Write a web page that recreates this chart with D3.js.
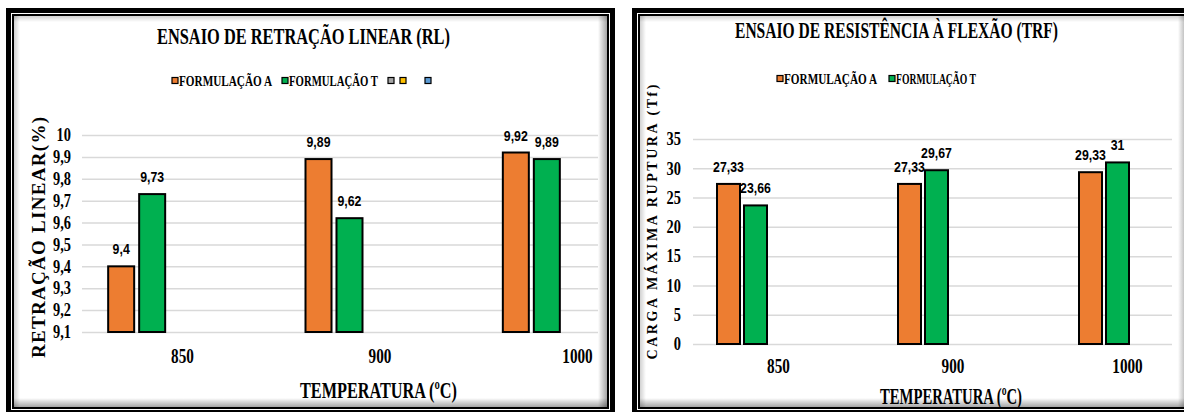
<!DOCTYPE html>
<html>
<head>
<meta charset="utf-8">
<script src="https://cdn.jsdelivr.net/npm/d3@7"></script>
<style>
  body { margin: 0; background: #fff; }
  text { font-family: "Liberation Serif", Tinos, "Times New Roman", "DejaVu Serif", serif !important; font-weight: bold; fill: #000; }
  text.lbl { font-family: "Liberation Sans", Arimo, Arial, sans-serif !important; }
</style>
</head>
<body>
<div id="app"></div>
<script>
// data
var temperaturas = ["850", "900", "1000"];
var formulacoes = ["FORMULAÇÃO A", "FORMULAÇÃO T"];
var cores = ["#ED7D31", "#00B050"];
var coresExtra = ["#A5A5A5", "#FFC000", "#5B9BD5"]; // empty legend entries on the RL chart

var retracaoA = [9.4, 9.89, 9.92];
var retracaoT = [9.73, 9.62, 9.89];
var ticksRL = [9.1, 9.2, 9.3, 9.4, 9.5, 9.6, 9.7, 9.8, 9.9, 10];

var flexaoA = [27.33, 27.33, 29.33];
var flexaoT = [23.66, 29.67, 31];
var ticksTRF = [0, 5, 10, 15, 20, 25, 30, 35];

var fmt = d3.formatLocale({decimal: ",", thousands: ".", grouping: [3], currency: ["", ""]}).format(".2~f");

var svg = d3.select("#app").append("svg")
    .attr("width", 1184)
    .attr("height", 412);

var defs = svg.append("defs");
function grad(id, x1, y1, x2, y2, op) {
    var g = defs.append("linearGradient").attr("id", id)
        .attr("x1", x1).attr("y1", y1).attr("x2", x2).attr("y2", y2);
    g.append("stop").attr("offset", 0).attr("stop-color", "#000").attr("stop-opacity", op);
    g.append("stop").attr("offset", 1).attr("stop-color", "#000").attr("stop-opacity", 0);
}
grad("shR", 1, 0, 0, 0, 0.35);
grad("shB", 0, 1, 0, 0, 0.35);
grad("shL", 0, 0, 1, 0, 0.18);
grad("shT", 0, 0, 0, 1, 0.18);

function squeeze(sel, k) {
    sel.each(function() {
        var L = this.getComputedTextLength();
        d3.select(this).attr("textLength", L * k).attr("lengthAdjust", "spacingAndGlyphs");
    });
}

function panel(x0, y0, x1, y1) {
    var p = svg.append("g");
    p.append("rect").attr("x", x0 + 2.5).attr("y", y0 + 2.5)
        .attr("width", x1 - x0 - 5).attr("height", y1 - y0 - 5)
        .attr("fill", "#fff").attr("stroke", "#000").attr("stroke-width", 5);
    var ix0 = x0 + 8, iy0 = y0 + 8, ix1 = x1 - 8, iy1 = y1 - 8, s = 9;
    p.append("rect").attr("x", ix1 - s).attr("y", iy0).attr("width", s).attr("height", iy1 - iy0).attr("fill", "url(#shR)");
    p.append("rect").attr("x", ix0).attr("y", iy1 - s).attr("width", ix1 - ix0).attr("height", s).attr("fill", "url(#shB)");
    p.append("rect").attr("x", ix0).attr("y", iy0).attr("width", 6).attr("height", iy1 - iy0).attr("fill", "url(#shL)");
    p.append("rect").attr("x", ix0).attr("y", iy0).attr("width", ix1 - ix0).attr("height", 6).attr("fill", "url(#shT)");
    p.append("rect").attr("x", x0 + 7).attr("y", y0 + 7)
        .attr("width", x1 - x0 - 14).attr("height", y1 - y0 - 14)
        .attr("fill", "none").attr("stroke", "#000").attr("stroke-width", 2);
}

panel(6, 8, 615, 415);
panel(632, 8, 1195, 415);

function drawChart(c) {
    var g = svg.append("g");

    var y = d3.scaleLinear().domain(c.yDomain).range(c.yRange);
    var x = d3.scaleBand().domain(temperaturas).range(c.band);
    var xs = d3.scaleBand().domain(formulacoes).range([-c.half, c.half]).paddingInner(c.pad);
    var xl = d3.scalePoint().domain(temperaturas).range(c.labelRange);

    // gridlines + y ticks
    var ay = g.append("g").attr("transform", "translate(" + c.gx0 + ",0)")
        .call(d3.axisLeft(y).tickValues(c.ticks).tickFormat(fmt)
            .tickSize(-(c.gx1 - c.gx0)).tickPadding(c.gx0 - c.tickRight));
    ay.select(".domain").remove();
    ay.selectAll("line").attr("stroke", "#d9d9d9").attr("stroke-width", 1.5);
    ay.selectAll("text").attr("font-size", 18).call(squeeze, 0.8);

    // x labels
    var ax = g.append("g").attr("transform", "translate(0," + c.xLabelY + ")")
        .call(d3.axisBottom(xl).tickSize(0).tickPadding(0));
    ax.select(".domain").remove();
    ax.selectAll("text").attr("dy", 0).attr("font-size", 20).call(squeeze, 0.76);

    // bars
    var rows = temperaturas.map(function(t, i) {
        return formulacoes.map(function(f, j) {
            return {t: t, f: f, v: c.series[j][i], color: cores[j]};
        });
    });
    var grp = g.selectAll(".grp").data(rows).enter().append("g")
        .attr("transform", function(d, i) { return "translate(" + (x(temperaturas[i]) + x.bandwidth() / 2) + ",0)"; });
    grp.selectAll("rect").data(function(d) { return d; }).enter().append("rect")
        .attr("x", function(d) { return xs(d.f); })
        .attr("width", xs.bandwidth())
        .attr("y", function(d) { return y(d.v); })
        .attr("height", function(d) { return y(c.yDomain[0]) - y(d.v); })
        .attr("fill", function(d) { return d.color; })
        .attr("stroke", "#000").attr("stroke-width", 2);
    grp.selectAll("text").data(function(d) { return d; }).enter().append("text")
        .attr("class", "lbl")
        .attr("x", function(d) { return xs(d.f) + xs.bandwidth() / 2; })
        .attr("y", function(d) { return y(d.v) - 12; })
        .attr("text-anchor", "middle")
        .attr("font-size", 15)
        .text(function(d) { return fmt(d.v); })
        .call(squeeze, 0.82);

    // title
    g.append("text").attr("x", c.titleX).attr("y", c.titleY).attr("text-anchor", "middle")
        .attr("font-size", 24).text(c.title)
        .attr("textLength", c.titleW).attr("lengthAdjust", "spacingAndGlyphs");

    // legend
    c.legend.forEach(function(it) {
        g.append("rect").attr("x", it.x).attr("y", c.legendY - 3.5).attr("width", 6).attr("height", 6)
            .attr("fill", it.color).attr("stroke", "#000").attr("stroke-width", 1.2);
        if (it.name) {
            g.append("text").attr("x", it.x + 7).attr("y", c.legendY + 5).attr("font-size", 14)
                .text(it.name).attr("textLength", it.w).attr("lengthAdjust", "spacingAndGlyphs");
        }
    });

    // axis titles
    g.append("text").attr("x", c.xTitleX).attr("y", c.xTitleY).attr("text-anchor", "middle")
        .attr("font-size", 23).text("TEMPERATURA (ºC)")
        .attr("textLength", c.xTitleW).attr("lengthAdjust", "spacingAndGlyphs");
    g.append("text")
        .attr("transform", "translate(" + c.yTitleX + "," + c.yTitleY + ") rotate(-90)")
        .attr("text-anchor", "middle").attr("font-size", c.yTitleSize)
        .text(c.yTitle)
        .attr("textLength", c.yTitleW).attr("lengthAdjust", "spacing");
}

drawChart({
    series: [retracaoA, retracaoT],
    yDomain: [9.1, 10], yRange: [332, 135], ticks: ticksRL,
    gx0: 82, gx1: 598, tickRight: 71,
    band: [38, 630], half: 28.5, pad: 0.161,
    labelRange: [182, 577], xLabelY: 363,
    title: "ENSAIO DE RETRAÇÃO LINEAR (RL)", titleX: 303.5, titleY: 44, titleW: 293,
    legendY: 81,
    legend: [
        {x: 172, color: cores[0], name: formulacoes[0], w: 93},
        {x: 282, color: cores[1], name: formulacoes[1], w: 89},
        {x: 388, color: coresExtra[0]},
        {x: 400, color: coresExtra[1]},
        {x: 425, color: coresExtra[2]}
    ],
    xTitleX: 378.5, xTitleY: 398, xTitleW: 157,
    yTitle: "RETRAÇÃO LINEAR(%)", yTitleX: 45, yTitleY: 237.5, yTitleW: 241, yTitleSize: 19
});

drawChart({
    series: [flexaoA, flexaoT],
    yDomain: [0, 35], yRange: [344, 139], ticks: ticksTRF,
    gx0: 693, gx1: 1172, tickRight: 681,
    band: [651.5, 1194.5], half: 25, pad: 0.148,
    labelRange: [778, 1127], xLabelY: 373,
    title: "ENSAIO DE RESISTÊNCIA À FLEXÃO (TRF)", titleX: 896.5, titleY: 38, titleW: 323,
    legendY: 79,
    legend: [
        {x: 777, color: cores[0], name: formulacoes[0], w: 93},
        {x: 889, color: cores[1], name: formulacoes[1], w: 80}
    ],
    xTitleX: 951, xTitleY: 404, xTitleW: 142,
    yTitle: "CARGA MÁXIMA RUPTURA (Tf)", yTitleX: 657, yTitleY: 222, yTitleW: 275, yTitleSize: 14
});
</script>
</body>
</html>
